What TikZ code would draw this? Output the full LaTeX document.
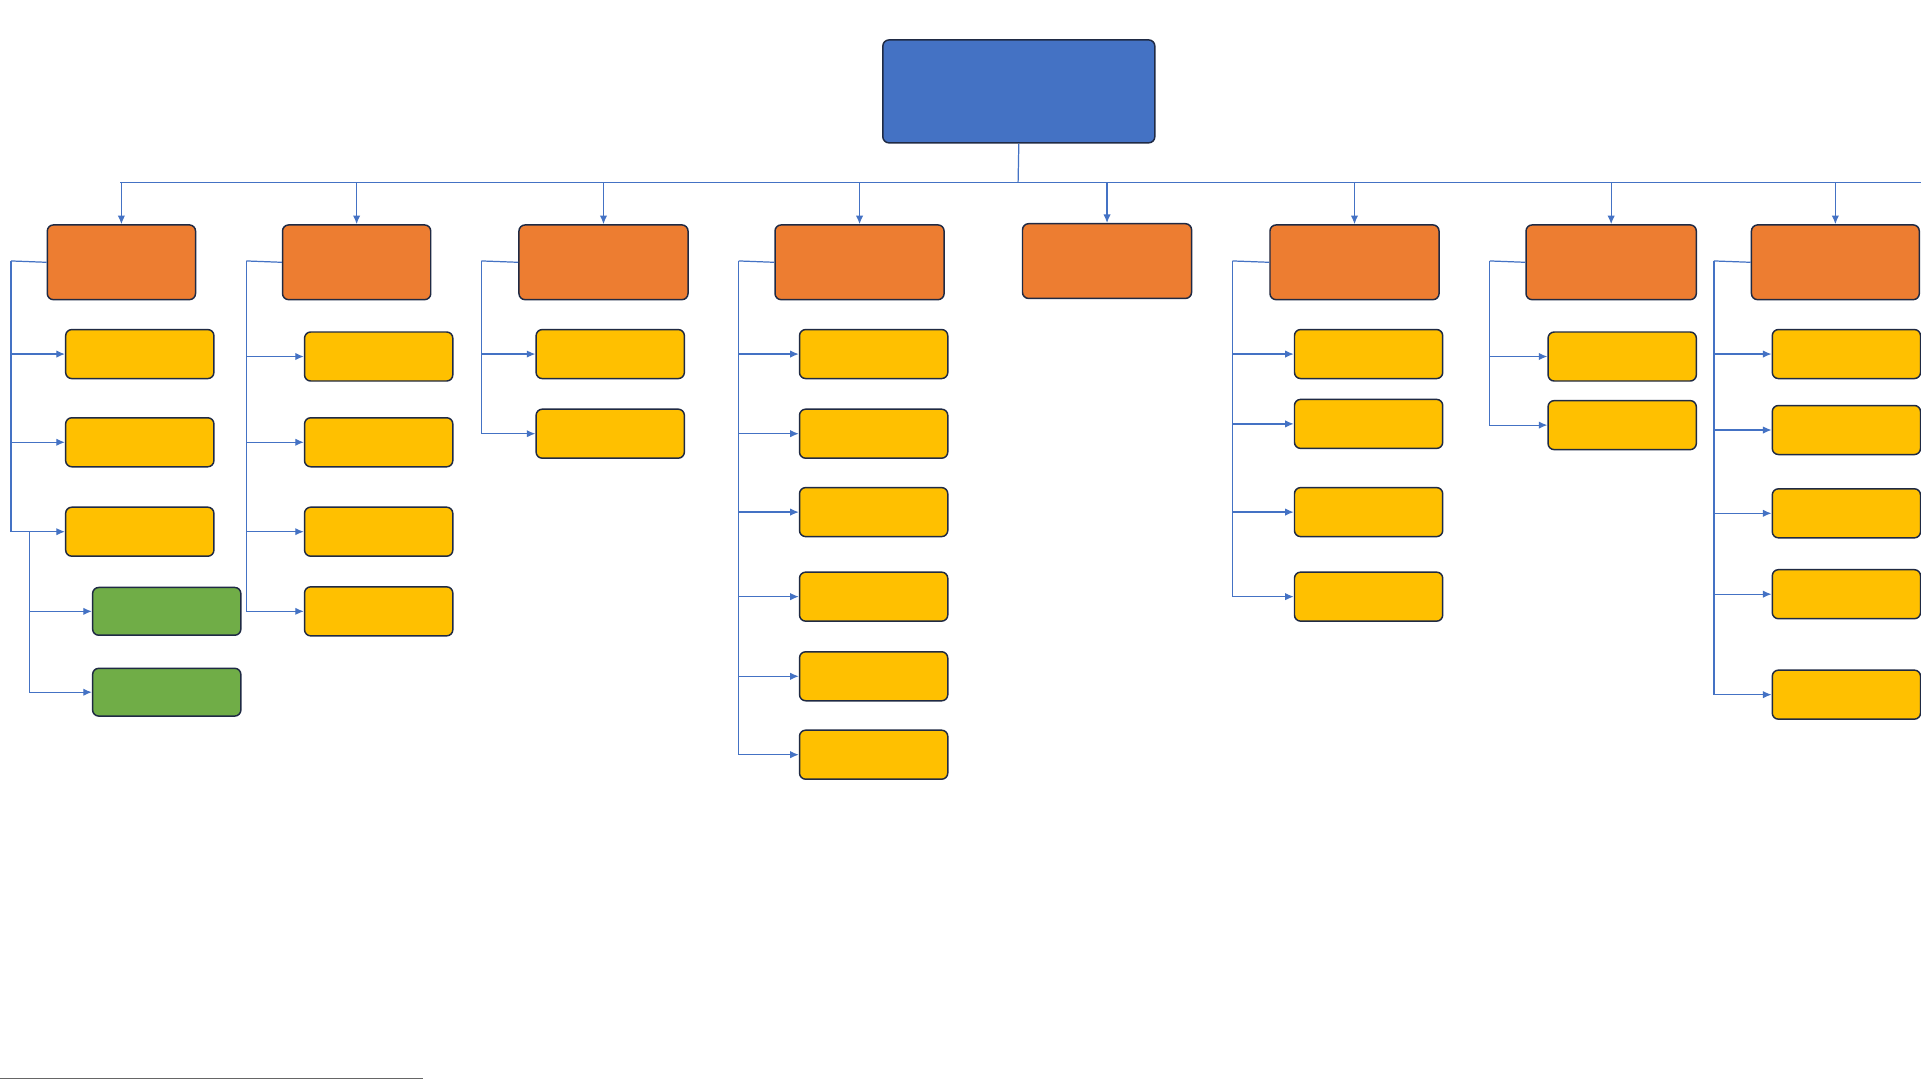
\documentclass[tikz,border=0pt]{standalone}
\usetikzlibrary{arrows.meta}
\definecolor{lb}{HTML}{4472C4}
\definecolor{bd}{HTML}{1F2A44}
\definecolor{org}{HTML}{ED7D31}
\definecolor{yel}{HTML}{FFC000}
\definecolor{grn}{HTML}{70AD47}
\begin{document}
\begin{tikzpicture}[x=1pt,y=-1pt,
 box/.style={draw=bd,line width=1.2pt,rounded corners=5pt,inner sep=0pt,anchor=north west},
 conn/.style={draw=lb,line width=1pt,-{Latex[length=7pt,width=6pt]}},
 lin/.style={draw=lb,line width=1pt}]
\useasboundingbox (0,0) rectangle (1568,882);
\fill[white] (0,0) rectangle (1568,882);
\node[box,fill=lb,minimum width=222pt,minimum height=84pt] (root) at (720,32) {};
\coordinate (bj) at (831,149);
\coordinate (be) at (1568,149);
\draw[lin] (root.south) -- (bj);
\draw[lin] (98,149) coordinate (bl) -- (be);
\foreach \n/\x/\y/\w in {1/38/183/121,2/230/183/121,3/423/183/138,4/632/183/138,5/834/182/138,6/1036/183/138,7/1245/183/139,8/1429/183/137}{
 \node[box,fill=org,minimum width=\w pt,minimum height=61pt] (o\n) at (\x,\y) {};
 \draw[conn] (o\n.north |- bj) -- (o\n.north);
}
% children: column/spine x/box x/centres
\foreach \n/\sx/\bx/\list in {1/9/53/{289,361,434},2/201/248/{291,361,434,499},3/393/437/{289,354},4/603/652/{289,354,418,487,552,616},6/1006/1056/{289,346,418,487},7/1216/1263/{291,347},8/1399/1446/{289,351,419,485,567}}{
 \coordinate (s\n) at (\sx,213);
 \draw[lin] (o\n.west) -- (s\n);
 \foreach \c [count=\i] in \list {
  \node[box,fill=yel,minimum width=121pt,minimum height=40pt,anchor=west] (y\n-\i) at (\bx,\c) {};
  \draw[conn] (s\n) |- (y\n-\i.west);
 }
}
\coordinate (g0) at (24,434);
\foreach \c [count=\i] in {499,565}{
 \node[box,fill=grn,minimum width=121pt,minimum height=39pt,anchor=west] (g\i) at (75,\c) {};
 \draw[conn] (g0) |- (g\i.west);
}
\draw[black!60,line width=0.8pt] (0,880) coordinate (bl1) -- (345,880) coordinate (bl2);
\end{tikzpicture}
\end{document}
